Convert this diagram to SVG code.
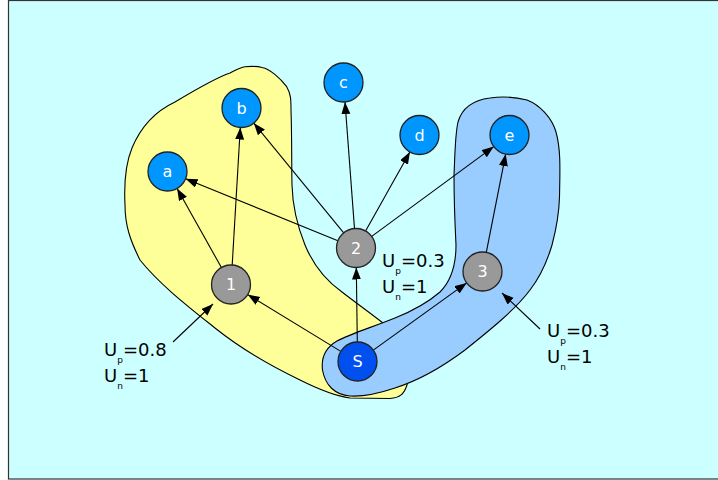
<svg xmlns="http://www.w3.org/2000/svg" width="718" height="480" viewBox="0 0 718 480">
<style>
.node circle{stroke:#222;stroke-width:1.3}
.blue circle{fill:#0096ff}
.gray circle{fill:#999999}
.src circle{fill:#0050f0}
.node text{font-family:"DejaVu Sans",sans-serif;font-size:16px;fill:#fff;text-anchor:middle}
.edge{stroke:#000;stroke-width:1.1;fill:none;marker-end:url(#ah)}
.lbl{font-family:"DejaVu Sans",sans-serif;font-size:18px;fill:#000}
.sub{font-size:9px}
.blob{stroke:#000;stroke-width:1.1}
</style>
<defs>
<marker id="ah" markerUnits="userSpaceOnUse" markerWidth="13" markerHeight="10" refX="12" refY="4.5" orient="auto">
<path d="M0,0 L12,4.5 L0,9 z" fill="#000"/>
</marker>
</defs>
<rect x="8.5" y="0.5" width="720" height="478.5" fill="#ccffff" stroke="#333" stroke-width="1.2"/>
<g id="yellow-region">
<path class="blob" fill="#ffff99" d="M245,66.7 C252,66 258,66.5 262,67.5 C270,69 280,78 286.7,86.7 C291,94 291,100 291,110 C292,140 291.5,165 292,185 C292.5,205 297,225 305,245 C312,262 325,280 342,292 C360,306 380,320 398,335 C410,348 412,370 407,385 C404,394 400,398 390,398.5 L350,398 C335,396 320,390 300,380 C275,368 245,352 215,328 C190,308 160,285 140,260 C130,240 125,225 125,205 C124,185 125,165 132,148 C142,124 158,110 175,102 C195,90 215,78 230,73 C236,70 240,67.5 245,66.7 Z"/>
</g>
<g id="blue-region">
<path class="blob" fill="#99ccff" d="M490,98 C500,96.5 515,97 527,100 C540,105 552,118 556,132 C561,150 560,170 559.5,197 C559,215 556,230 552,245 C547,262 540,277 530,290 C515,310 490,330 465,350 C445,365 420,380 395,388 C380,393 365,397 350,396 C335,395 325,385 322.5,370 C321,358 325,348 337,341 C350,334 370,328 395,318 C410,312 425,305 440,292 C452,280 456,265 456,245 C455,225 454,200 454,175 C455,155 455,135 458,122 C462,108 474,100 490,98 Z"/>
</g>
<g id="connectors">
<line class="edge" x1="340.8" y1="351.4" x2="247.7" y2="294.6"/>
<line class="edge" x1="357.3" y1="342" x2="356.3" y2="267.5"/>
<line class="edge" x1="373.3" y1="350.1" x2="466.7" y2="282.9"/>
<line class="edge" x1="221.4" y1="267.5" x2="177.1" y2="188.5"/>
<line class="edge" x1="232.2" y1="265" x2="240.3" y2="127.5"/>
<line class="edge" x1="337.9" y1="240.7" x2="185.6" y2="178.8"/>
<line class="edge" x1="343.7" y1="232.9" x2="253.8" y2="123.1"/>
<line class="edge" x1="354.5" y1="228.6" x2="345" y2="102"/>
<line class="edge" x1="365.6" y1="231" x2="409.9" y2="152"/>
<line class="edge" x1="371.7" y1="236.4" x2="493.8" y2="146.6"/>
<line class="edge" x1="486.3" y1="252.4" x2="505.7" y2="154.1"/>
<line class="edge" x1="173" y1="342" x2="213" y2="304"/>
<line class="edge" x1="540" y1="329" x2="502" y2="293"/>
</g>
<g id="node-a" class="node blue"><circle cx="167.5" cy="171.5" r="19.5"/><text x="167.5" y="177">a</text></g>
<g id="node-b" class="node blue"><circle cx="241.5" cy="108" r="19.5"/><text x="241.5" y="113.5">b</text></g>
<g id="node-c" class="node blue"><circle cx="343.5" cy="82.5" r="19.5"/><text x="343.5" y="88">c</text></g>
<g id="node-d" class="node blue"><circle cx="419.5" cy="135" r="19.5"/><text x="419.5" y="140.5">d</text></g>
<g id="node-e" class="node blue"><circle cx="509.5" cy="135" r="19.5"/><text x="509.5" y="140.5">e</text></g>
<g id="node-1" class="node gray"><circle cx="231" cy="284.5" r="19.5"/><text x="231" y="290">1</text></g>
<g id="node-2" class="node gray"><circle cx="356" cy="248" r="19.5"/><text x="356" y="253.5">2</text></g>
<g id="node-3" class="node gray"><circle cx="482.5" cy="271.5" r="19.5"/><text x="482.5" y="277">3</text></g>
<g id="node-S" class="node src"><circle cx="357.5" cy="361.5" r="19.5"/><text x="357.5" y="367">S</text></g>
<g id="label-1">
<text class="lbl" x="104" y="356">U<tspan class="sub" dy="7">p</tspan><tspan dy="-7">=0.8</tspan></text>
<text class="lbl" x="104" y="381.5">U<tspan class="sub" dy="7">n</tspan><tspan dy="-7">=1</tspan></text>
</g>
<g id="label-2">
<text class="lbl" x="382" y="267.3">U<tspan class="sub" dy="7">p</tspan><tspan dy="-7">=0.3</tspan></text>
<text class="lbl" x="382" y="293.3">U<tspan class="sub" dy="7">n</tspan><tspan dy="-7">=1</tspan></text>
</g>
<g id="label-3">
<text class="lbl" x="547" y="336.7">U<tspan class="sub" dy="7">p</tspan><tspan dy="-7">=0.3</tspan></text>
<text class="lbl" x="547" y="362.7">U<tspan class="sub" dy="7">n</tspan><tspan dy="-7">=1</tspan></text>
</g>
</svg>
